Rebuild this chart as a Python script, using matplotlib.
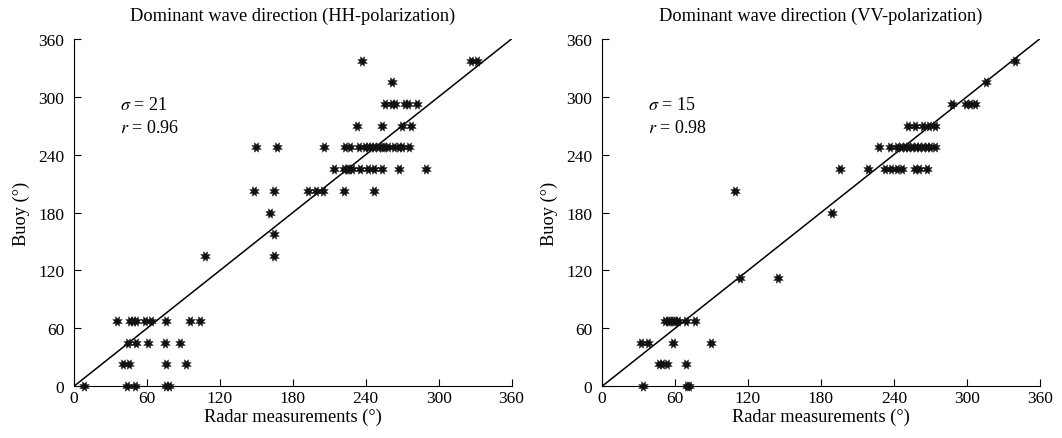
import matplotlib
matplotlib.use("Agg")
import matplotlib.pyplot as plt
import numpy as np

plt.rcParams["font.family"] = ["Liberation Serif", "DejaVu Serif"]
plt.rcParams["mathtext.fontset"] = "stix"

# HH-polarization: radar vs buoy direction (deg)
hh_radar = [
    8, 44, 50, 75.5, 78.5,
    40, 45, 76, 92.5,
    44.5, 51, 61, 74.5, 87.5,
    35, 46, 48.5, 51, 58.5, 63.5, 75.5, 95.5, 103.5,
    107.5, 164.5, 164.5, 161.5,
    148, 164.5, 192.5, 199, 205, 222, 246.5,
    214, 222, 224.5, 226.5, 228.5, 235.5, 242, 246.5, 253.5, 267, 290,
    150, 167, 206, 223, 227, 234.5, 239, 241.5, 244, 247, 250, 253, 255, 258, 263.5, 267, 270, 275.5,
    233, 253.5, 269.5, 277.5,
    256, 261.5, 264, 272, 275, 282,
    262,
    237, 327, 331.5,
]
hh_buoy = [
    0, 0, 0, 0, 0,
    22.5, 22.5, 22.5, 22.5,
    45, 45, 45, 45, 45,
    67.5, 67.5, 67.5, 67.5, 67.5, 67.5, 67.5, 67.5, 67.5,
    135, 135, 157.5, 180,
    202.5, 202.5, 202.5, 202.5, 202.5, 202.5, 202.5,
    225, 225, 225, 225, 225, 225, 225, 225, 225, 225, 225,
    247.5, 247.5, 247.5, 247.5, 247.5, 247.5, 247.5, 247.5, 247.5, 247.5, 247.5, 247.5, 247.5, 247.5, 247.5, 247.5, 247.5, 247.5,
    270, 270, 270, 270,
    292.5, 292.5, 292.5, 292.5, 292.5, 292.5,
    315,
    337.5, 337.5, 337.5,
]

# VV-polarization
vv_radar = [
    34, 69.5, 71.5,
    46.5, 49, 53.5, 69,
    32, 38, 58, 89.5,
    52, 54, 56, 58, 60, 62.5, 69, 76.5,
    113.5, 145,
    109,
    189.5,
    196, 219, 232.5, 238, 242.5, 246.5, 257, 261, 267,
    228, 237, 243, 246, 249, 252, 255, 258, 261, 264, 267, 270, 274,
    252, 257, 264, 269, 274,
    288, 299, 303, 307,
    316,
    340,
]
vv_buoy = [
    0, 0, 0,
    22.5, 22.5, 22.5, 22.5,
    45, 45, 45, 45,
    67.5, 67.5, 67.5, 67.5, 67.5, 67.5, 67.5, 67.5,
    112.5, 112.5,
    202.5,
    180,
    225, 225, 225, 225, 225, 225, 225, 225, 225,
    247.5, 247.5, 247.5, 247.5, 247.5, 247.5, 247.5, 247.5, 247.5, 247.5, 247.5, 247.5, 247.5,
    270, 270, 270, 270, 270,
    292.5, 292.5, 292.5, 292.5,
    315,
    337.5,
]

panels = [
    ("Dominant wave direction (HH-polarization)", hh_radar, hh_buoy, "21", "0.96"),
    ("Dominant wave direction (VV-polarization)", vv_radar, vv_buoy, "15", "0.98"),
]
ticks = [0, 60, 120, 180, 240, 300, 360]

fig = plt.figure(figsize=(10.62, 4.39), dpi=100)
lefts = [0.0697, 0.567]

for left, (title, xs, ys, sigma, r) in zip(lefts, panels):
    ax = fig.add_axes([left, 0.118, 0.412, 0.791])
    ax.plot([0, 360], [0, 360], color="black", lw=1.1, zorder=1)
    ax.plot(xs, ys, linestyle="none", marker=(8, 1, 22.5), markersize=7.5,
            color="#111111", markeredgewidth=0.3, clip_on=False, zorder=3)
    ax.set_xlim(0, 360)
    ax.set_ylim(0, 360)
    ax.set_xticks(ticks)
    ax.set_yticks(ticks)
    ax.spines["top"].set_visible(False)
    ax.spines["right"].set_visible(False)
    ax.tick_params(direction="in", length=5, width=0.8, labelsize=12.5)
    ax.tick_params(axis="x", pad=3)
    ax.tick_params(axis="y", pad=7)
    ax.set_xlabel("Radar measurements (°)", fontsize=13.2, labelpad=1)
    ax.set_ylabel("Buoy (°)", fontsize=13.2, labelpad=6)
    ax.set_title(title, fontsize=13.2, pad=14)
    ax.text(38, 292, r"$\sigma$ = " + sigma, fontsize=13, va="center")
    ax.text(38, 268, r"$r$ = " + r, fontsize=13, va="center")

fig.savefig("out.png", dpi=100)
